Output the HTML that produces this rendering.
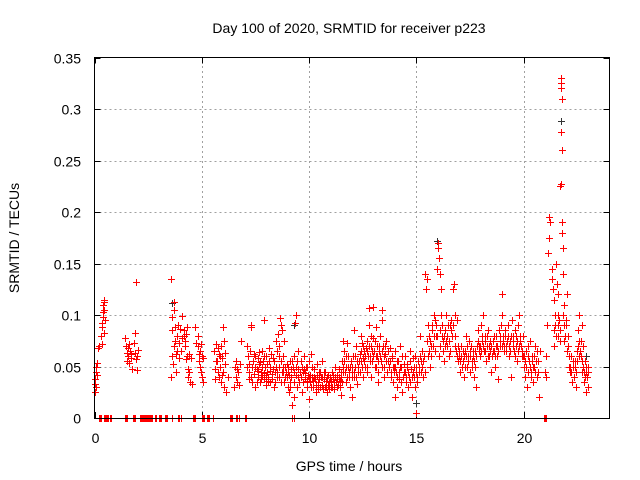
<!DOCTYPE html>
<html><head><meta charset="utf-8">
<style>
html,body{margin:0;padding:0;background:#fff;}
svg{display:block;font-family:"Liberation Sans",Arial,sans-serif;}
</style></head>
<body>
<svg id="chart" width="640" height="480" viewBox="0 0 640 480" xmlns="http://www.w3.org/2000/svg">
<rect width="640" height="480" fill="#fff"/>
<g id="grid"></g>
<g id="ticks"></g>
<g id="marksBlack"></g>
<g id="marksRed"></g>
<rect x="94.5" y="57.5" width="515" height="361" fill="none" stroke="#000" stroke-width="1"/>
<text x="349" y="33" font-size="14" text-anchor="middle" fill="#000">Day 100 of 2020, SRMTID for receiver p223</text>
<text x="349" y="471" font-size="14" text-anchor="middle" fill="#000">GPS time / hours</text>
<text x="19" y="238" font-size="14" text-anchor="middle" fill="#000" transform="rotate(-90 19 238)">SRMTID / TECUs</text>
</svg>
<script>
const xTicks = [0,5,10,15,20];
const yTicks = [0,0.05,0.1,0.15,0.2,0.25,0.3,0.35];
const yTickLabels = ["0","0.05","0.1","0.15","0.2","0.25","0.3","0.35"];
const zeroHours = [0.2,0.25,0.3,0.45,0.5,0.55,0.6,0.65,0.7,0.75,1.4,1.45,1.5,1.8,1.85,1.9,2.1,2.15,2.2,2.25,2.3,2.35,2.4,2.45,2.5,2.55,2.6,2.65,2.7,2.8,2.85,3.0,3.05,3.1,3.3,3.35,3.4,3.6,3.9,3.95,4.05,4.6,4.65,4.7,5.0,5.05,5.1,5.25,5.3,5.35,5.5,6.3,6.35,6.4,6.6,6.65,6.75,7.0,7.05,9.2,9.3,20.95,21.0,21.05];
const blackPoints = [[3.6,.112],[9.3,.09],[15.0,.015],[15.95,.172],[21.75,.288],[22.9,.06]];
const redPoints = [
[0.02,.025],[0.03,.033],[0.04,.038],[0.05,.045],[0.07,.05],[0.08,.03],[0.1,.042],[0.12,.053],[0.15,.068],[0.2,.07],[0.3,.08],[0.35,.092],[0.38,.103],[0.4,.11],[0.42,.113],[0.45,.115],[0.36,.072],[0.43,.083],[0.4,.098],[0.33,.088],
[1.4,.078],[1.45,.07],[1.5,.063],[1.5,.055],[1.55,.06],[1.6,.072],[1.6,.053],[1.65,.065],[1.7,.058],[1.75,.048],[1.85,.073],[1.9,.083],[1.9,.063],[1.95,.057],[2.0,.047],[2.0,.06],[2.05,.066],[1.95,.132],
[3.55,.135],[3.55,.04],[3.6,.085],[3.6,.06],[3.62,.098],[3.65,.052],[3.7,.113],[3.7,.105],[3.72,.07],[3.75,.088],[3.8,.062],[3.8,.045],[3.85,.08],[3.9,.09],[3.95,.058],[3.95,.073],[4.0,.086],[4.05,.065],[4.1,.099],[4.15,.085],[4.15,.08],[4.2,.07],[4.2,.075],[4.25,.057],[4.3,.088],[4.3,.06],[4.35,.048],[4.4,.045],[4.4,.062],[4.45,.035],[4.5,.058],[4.55,.033],
[4.7,.088],[4.75,.073],[4.8,.07],[4.85,.055],[4.9,.065],[4.9,.05],[4.95,.045],[5.0,.06],[5.0,.04],[5.05,.035],[5.05,.058],[4.8,.08],
[5.55,.065],[5.6,.048],[5.6,.038],[5.65,.072],[5.7,.055],[5.75,.068],[5.75,.045],[5.8,.04],[5.8,.062],[5.85,.05],[5.9,.07],[5.9,.035],[5.95,.058],[6.0,.088],[6.0,.045],[6.05,.075],[6.05,.03],[6.1,.063],[6.1,.052],[6.15,.025],[6.2,.04],
[6.5,.03],[6.55,.05],[6.6,.055],[6.6,.04],[6.65,.035],[6.7,.045],[6.75,.032],[6.8,.052],[6.85,.075],
[7.1,.07],[7.15,.06],[7.2,.045],[7.2,.038],[7.25,.065],[7.3,.09],[7.3,.088],[7.35,.05],[7.35,.035],[7.4,.055],[7.45,.043],[7.5,.06],[7.5,.03],[7.55,.048],[7.6,.04],[7.6,.058],[7.65,.052],[7.7,.035],[7.75,.045],[7.8,.065],[7.8,.042],[7.85,.055],[7.9,.095],[7.9,.038],[7.95,.05],[8.0,.06],[8.0,.032],[8.05,.045],[8.1,.04],[8.15,.068],[8.2,.05],[8.2,.035],[8.25,.043],[8.3,.058],[8.35,.03],[8.4,.045],[8.45,.075],[8.5,.065],[8.5,.04],[8.55,.082],[8.6,.07],[8.6,.05],[8.65,.097],[8.7,.09],[8.7,.035],[8.75,.085],[8.8,.06],[8.8,.045],[8.85,.075],[8.9,.04],[8.95,.052],[9.0,.03],[9.0,.045],[9.05,.025],[9.1,.055],[9.1,.035],[9.15,.04],[9.2,.013],[9.25,.05],[9.3,.02],[9.3,.06],[9.35,.092],[9.4,.1],[9.4,.042],[9.45,.03],[9.5,.048],[9.5,.065],[9.55,.035],[9.6,.055],[9.65,.025],[9.7,.045],[9.75,.06],[9.8,.038],[9.85,.05],[9.9,.03],[9.95,.042],
[10.0,.018],[10.0,.055],[10.05,.035],[10.1,.062],[10.15,.04],[10.2,.03],[10.25,.048],[10.3,.025],[10.35,.052],[10.4,.035],[10.45,.045],[10.5,.03],[10.55,.04],[10.6,.055],[10.65,.028],[10.7,.038],[10.75,.045],[10.8,.03],[10.85,.025],[10.9,.042],[10.95,.035],[11.0,.03],[11.05,.045],[11.1,.038],[11.15,.028],[11.2,.05],[11.25,.035],[11.3,.042],[11.35,.032],[11.4,.048],[11.45,.036],[11.5,.04],[11.5,.022],[11.55,.055],[11.6,.075],[11.6,.045],[11.65,.065],[11.7,.06],[11.7,.035],[11.75,.073],[11.8,.05],[11.85,.04],[11.9,.03],[11.95,.055],
[12.0,.045],[12.0,.02],[12.05,.06],[12.1,.085],[12.1,.04],[12.15,.05],[12.2,.07],[12.25,.033],[12.3,.045],[12.35,.062],[12.4,.08],[12.4,.055],[12.45,.073],[12.5,.058],[12.5,.04],[12.55,.065],[12.6,.05],[12.65,.068],[12.7,.075],[12.7,.045],[12.75,.06],[12.8,.107],[12.8,.09],[12.85,.055],[12.9,.07],[12.9,.04],[12.95,.065],[13.0,.108],[13.0,.078],[13.05,.05],[13.1,.088],[13.1,.06],[13.15,.07],[13.2,.045],[13.2,.035],[13.25,.065],[13.3,.08],[13.35,.055],[13.4,.105],[13.4,.095],[13.45,.07],[13.5,.05],[13.5,.04],[13.55,.062],[13.6,.075],[13.65,.045],[13.7,.055],[13.75,.068],[13.8,.04],[13.85,.058],[13.9,.035],[13.95,.05],
[14.0,.02],[14.0,.065],[14.05,.045],[14.1,.03],[14.15,.055],[14.2,.038],[14.25,.07],[14.3,.05],[14.35,.025],[14.4,.045],[14.45,.06],[14.5,.035],[14.55,.052],[14.6,.03],[14.65,.04],[14.7,.065],[14.75,.048],[14.8,.02],[14.85,.058],[14.9,.04],[14.95,.06],[15.0,.005],[15.0,.05],[15.05,.035],[15.1,.045],[15.15,.08],[15.2,.055],[15.25,.065],[15.3,.04],[15.35,.06],
[15.4,.14],[15.45,.125],[15.5,.135],[15.5,.075],[15.55,.09],[15.6,.065],[15.65,.05],[15.7,.07],[15.75,.085],[15.8,.1],[15.85,.095],[15.9,.08],[15.95,.145],[16.0,.17],[16.0,.165],[16.05,.155],[16.05,.06],[16.1,.14],[16.15,.125],[16.15,.1],[16.2,.09],[16.25,.075],[16.3,.055],[16.35,.085],[16.4,.1],[16.45,.07],[16.5,.06],[16.55,.09],[16.6,.085],[16.65,.08],[16.7,.125],[16.75,.13],[16.8,.1],[16.85,.065],[16.9,.095],[16.95,.055],
[17.0,.06],[17.05,.045],[17.1,.07],[17.15,.055],[17.2,.04],[17.25,.065],[17.3,.08],[17.35,.05],[17.4,.06],[17.45,.075],[17.5,.045],[17.55,.07],[17.6,.055],[17.65,.065],[17.7,.04],[17.75,.05],[17.8,.03],[17.85,.085],[17.9,.07],[17.95,.06],[18.0,.09],[18.05,.075],[18.1,.1],[18.15,.065],[18.2,.08],[18.25,.055],[18.3,.07],[18.35,.085],[18.4,.06],[18.45,.075],[18.5,.045],[18.55,.065],[18.6,.08],[18.65,.05],[18.7,.07],[18.75,.06],[18.8,.038],[18.85,.085],[18.9,.07],[18.95,.09],[19.0,.12],[19.0,.1],[19.05,.08],[19.1,.065],[19.15,.085],[19.2,.07],[19.25,.09],[19.3,.06],[19.35,.075],[19.4,.04],[19.45,.095],[19.5,.08],[19.55,.065],[19.6,.085],[19.65,.07],[19.7,.055],[19.75,.09],[19.8,.1],[19.85,.075],[19.9,.06],[19.95,.08],
[20.0,.05],[20.05,.04],[20.1,.065],[20.15,.03],[20.2,.07],[20.25,.055],[20.3,.075],[20.35,.045],[20.4,.06],[20.45,.035],[20.5,.05],[20.55,.07],[20.6,.04],[20.65,.055],[20.7,.02],[20.75,.065],
[21.0,.045],[21.05,.06],[21.05,.04],[21.1,.09],[21.15,.16],[21.2,.175],[21.2,.195],[21.25,.19],[21.3,.145],[21.3,.135],[21.35,.125],[21.4,.115],[21.4,.07],[21.45,.1],[21.5,.15],[21.55,.13],[21.6,.12],[21.6,.08],[21.65,.095],[21.7,.085],[21.7,.225],[21.72,.227],[21.75,.33],[21.75,.325],[21.76,.32],[21.77,.31],[21.76,.278],[21.78,.26],[21.8,.19],[21.8,.18],[21.85,.165],[21.85,.14],[21.9,.11],[21.9,.075],[21.95,.09],[22.0,.12],[22.0,.065],[22.05,.08],[22.1,.05],[22.15,.045],[22.2,.06],[22.25,.035],[22.3,.055],[22.35,.04],[22.4,.05],[22.45,.03],[22.5,.065],[22.55,.085],[22.6,.1],[22.6,.06],[22.65,.075],[22.7,.045],[22.75,.07],[22.8,.035],[22.85,.055],[22.9,.025],[22.95,.04],[23.0,.05],[23.0,.03],[22.9,.045],[22.7,.09]
];
const redPointsDense = [
[0.45,.105],[0.48,.095],[1.55,.068],[1.7,.062],[3.75,.075],[3.85,.065],[4.1,.078],[4.25,.082],[4.35,.04],[4.85,.062],[4.95,.072],[5.65,.055],[5.85,.06],[5.95,.042],[6.65,.048],
[7.12,.05],[7.22,.052],[7.28,.04],[7.42,.062],[7.48,.05],[7.58,.035],[7.62,.046],[7.68,.064],[7.72,.054],[7.78,.038],[7.82,.05],[7.88,.044],[7.92,.06],[7.98,.04],[8.02,.052],[8.08,.036],[8.12,.055],[8.18,.046],[8.22,.062],[8.28,.038],[8.32,.048],[8.38,.055],[8.42,.035],[8.48,.05],[8.52,.045],[8.58,.06],[8.62,.04],[8.68,.055],[8.72,.045],[8.78,.05],[8.82,.035],[8.88,.05],[8.92,.045],[8.98,.04],[9.02,.05],[9.08,.042],[9.12,.03],[9.18,.048],[9.22,.055],[9.28,.035],[9.32,.045],[9.38,.05],[9.42,.055],[9.48,.04],[9.52,.035],[9.58,.045],[9.62,.04],[9.68,.05],[9.72,.035],[9.78,.048],[9.82,.044],[9.88,.036],[9.92,.05],[9.98,.04],
[10.02,.042],[10.08,.03],[10.12,.05],[10.18,.036],[10.22,.04],[10.28,.038],[10.32,.032],[10.38,.042],[10.42,.028],[10.48,.038],[10.52,.045],[10.58,.032],[10.62,.04],[10.68,.045],[10.72,.03],[10.78,.036],[10.82,.04],[10.88,.032],[10.92,.028],[10.98,.04],[11.02,.036],[11.08,.03],[11.12,.042],[11.18,.035],[11.22,.04],[11.28,.03],[11.32,.038],[11.38,.04],[11.42,.03],[11.48,.045],[11.52,.035],[11.58,.05],[11.62,.055],[11.68,.045],[11.72,.05],[11.78,.04],[11.82,.06],[11.88,.045],[11.92,.05],[11.98,.04],
[12.02,.05],[12.08,.045],[12.12,.06],[12.18,.04],[12.22,.055],[12.28,.05],[12.32,.055],[12.38,.045],[12.42,.065],[12.48,.05],[12.52,.07],[12.58,.055],[12.62,.06],[12.68,.05],[12.72,.065],[12.78,.07],[12.82,.06],[12.88,.08],[12.92,.055],[12.98,.06],[13.02,.065],[13.08,.075],[13.12,.05],[13.18,.06],[13.22,.055],[13.28,.07],[13.32,.06],[13.38,.065],[13.42,.05],[13.48,.06],[13.52,.07],[13.58,.055],[13.62,.045],[13.68,.065],[13.72,.05],[13.78,.055],[13.82,.045],[13.88,.06],[13.92,.05],[13.98,.045],
[14.02,.05],[14.08,.055],[14.12,.04],[14.18,.045],[14.22,.05],[14.28,.035],[14.32,.06],[14.38,.04],[14.42,.052],[14.48,.045],[14.52,.04],[14.58,.05],[14.62,.045],[14.68,.035],[14.72,.055],[14.78,.04],[14.82,.045],[14.88,.05],[14.92,.03],[14.98,.045],[15.02,.04],[15.08,.055],[15.12,.05],[15.18,.06],[15.22,.045],[15.28,.05],[15.32,.055],[15.38,.045],
[15.52,.06],[15.58,.08],[15.62,.075],[15.68,.06],[15.72,.09],[15.78,.07],[15.82,.08],[15.88,.065],[15.92,.09],[15.98,.08],[16.08,.085],[16.12,.07],[16.18,.08],[16.22,.065],[16.28,.08],[16.32,.07],[16.38,.075],[16.42,.08],[16.48,.09],[16.52,.075],[16.58,.065],[16.62,.095],[16.68,.08],[16.72,.09],[16.78,.07],[16.82,.08],[16.88,.06],[16.92,.07],[16.98,.065],
[17.02,.055],[17.08,.06],[17.12,.05],[17.18,.065],[17.22,.06],[17.28,.05],[17.32,.06],[17.38,.07],[17.42,.055],[17.48,.06],[17.52,.065],[17.58,.05],[17.62,.06],[17.68,.055],[17.72,.065],[17.78,.06],[17.82,.07],[17.88,.075],[17.92,.065],[17.98,.07],[18.02,.065],[18.08,.08],[18.12,.07],[18.18,.075],[18.22,.065],[18.28,.08],[18.32,.06],[18.38,.07],[18.42,.065],[18.48,.07],[18.52,.06],[18.58,.075],[18.62,.065],[18.68,.06],[18.72,.08],[18.78,.07],[18.82,.065],[18.88,.075],[18.92,.08],[18.98,.07],[19.02,.075],[19.08,.07],[19.12,.08],[19.18,.065],[19.22,.075],[19.28,.08],[19.32,.07],[19.38,.065],[19.42,.08],[19.48,.07],[19.52,.075],[19.58,.06],[19.62,.08],[19.68,.075],[19.72,.065],[19.78,.07],[19.82,.08],[19.88,.07],[19.92,.065],[19.98,.06],
[20.02,.06],[20.08,.055],[20.12,.05],[20.18,.045],[20.22,.06],[20.28,.05],[20.32,.04],[20.38,.055],[20.42,.05],[20.48,.06],[20.52,.045],[20.58,.055],[20.62,.065],[20.68,.045],
[21.42,.085],[21.48,.09],[21.52,.08],[21.58,.1],[21.62,.09],[21.68,.075],[21.82,.1],[21.88,.09],[21.92,.08],[21.98,.095],[22.08,.07],[22.12,.06],[22.18,.05],[22.22,.045],[22.28,.05],[22.38,.055],[22.42,.045],[22.48,.055],[22.52,.07],[22.58,.075],[22.62,.065],[22.68,.06],[22.72,.055],[22.78,.05],[22.82,.045],[22.88,.04],[22.92,.05],[22.98,.045]
];

const NS = "http://www.w3.org/2000/svg";
const X0 = 94.5, X1 = 609.5, Y0 = 418, Y1 = 57.5;
function xs(h){ return X0 + (h/24)*(X1-X0); }
function ys(v){ return Y0 - (v/0.35)*(Y0-Y1); }

const grid = document.getElementById('grid');
const ticks = document.getElementById('ticks');
function line(g,x1,y1,x2,y2,stroke,dash){
  const l = document.createElementNS(NS,'line');
  l.setAttribute('x1',x1);l.setAttribute('y1',y1);l.setAttribute('x2',x2);l.setAttribute('y2',y2);
  l.setAttribute('stroke',stroke);l.setAttribute('stroke-width','1');
  if(dash) l.setAttribute('stroke-dasharray',dash);
  g.appendChild(l);
  return l;
}
yTicks.forEach((v,i)=>{
  const y = Math.round(ys(v))+0.5;
  if(v>0 && v<0.35){
    const gl = line(grid,X0,y,X1,y,'#a0a0a0','2,3');
    
    
  }
  const t1 = line(ticks,X0,y,X0+6,y,'#000');
  
  
  const t2 = line(ticks,X1-6,y,X1,y,'#000');
  
  
  const tx = document.createElementNS(NS,'text');
  tx.setAttribute('x',81);tx.setAttribute('y',y+5);
  tx.setAttribute('text-anchor','end');tx.setAttribute('font-size','14');
  tx.textContent = yTickLabels[i];
  
  
  ticks.appendChild(tx);
});
xTicks.forEach(h=>{
  const x = Math.round(xs(h))+0.5;
  if(h>0){
    const gl = line(grid,x,Y0,x,Y1,'#a0a0a0','2,3');
    
    
  }
  const t1 = line(ticks,x,Y0,x,Y0-6,'#000');
  
  
  const t2 = line(ticks,x,Y1,x,Y1+6,'#000');
  
  
  const tx = document.createElementNS(NS,'text');
  tx.setAttribute('x',x);tx.setAttribute('y',443);
  tx.setAttribute('text-anchor','middle');tx.setAttribute('font-size','14');
  tx.textContent = String(h);
  
  
  ticks.appendChild(tx);
});

function plus(g,h,v,color){
  const x = Math.round(xs(h))+0.5, y = Math.round(ys(v))+0.5;
  const p = document.createElementNS(NS,'path');
  p.setAttribute('d','M'+(x-3.5)+' '+y+'H'+(x+3.5)+'M'+x+' '+(y-3.5)+'V'+(y+3.5));
  p.setAttribute('stroke',color);p.setAttribute('stroke-width','1');p.setAttribute('fill','none');
  g.appendChild(p);
  return p;
}
const gb = document.getElementById('marksBlack');
const gr = document.getElementById('marksRed');
blackPoints.forEach(d=>{
  const p = plus(gb,d[0],d[1],'#333');
  
  
});
redPoints.forEach(d=>{
  const p = plus(gr,d[0],d[1],'#ff0000');
  
  
});
redPointsDense.forEach(d=>{
  const p = plus(gr,d[0],d[1],'#ff0000');
  
  
});
zeroHours.forEach(h=>{
  const p = plus(gr,h,0,'#ff0000');
  
  
});
</script>
</body></html>
